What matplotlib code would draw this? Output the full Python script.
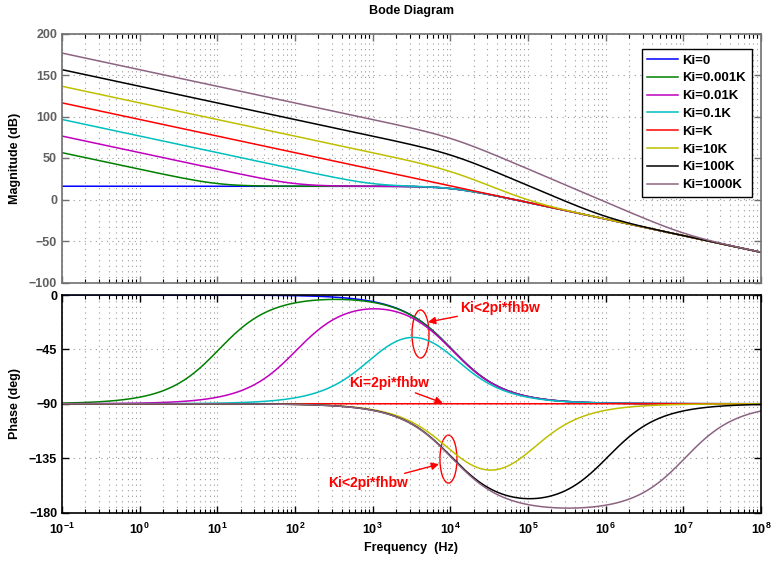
import numpy as np
import matplotlib
matplotlib.use("Agg")
import matplotlib.pyplot as plt
from matplotlib import transforms
from matplotlib.patches import Ellipse
from matplotlib.ticker import FixedLocator, MultipleLocator, NullFormatter, LogFormatterMathtext

plt.rcParams['font.family'] = ['Liberation Sans', 'DejaVu Sans']
plt.rcParams['font.weight'] = 'bold'
plt.rcParams['mathtext.fontset'] = 'custom'
plt.rcParams['mathtext.rm'] = 'Liberation Sans:bold'
plt.rcParams['mathtext.bf'] = 'Liberation Sans:bold'
plt.rcParams['mathtext.default'] = 'bf'

# PI controller (Kp + Ki/s) driving a single-pole plant
ki_ratios = [0, 0.001, 0.01, 0.1, 1, 10, 100, 1000]   # Ki as a multiple of K = Kp*2*pi*fhbw
labels = ['Ki=0', 'Ki=0.001K', 'Ki=0.01K', 'Ki=0.1K', 'Ki=K', 'Ki=10K', 'Ki=100K', 'Ki=1000K']
colors = ['#0000ff', '#008000', '#bf00bf', '#00bfbf', '#ff0000', '#bfbf00', '#000000', '#8c6482']
loop_gain_db = 16.0      # Kp * plant DC gain
pole_hz = 1.05e4         # fhbw, plant pole
kp = 1.0
decades = np.arange(-1, 9)

freq = np.logspace(-1, 8, 3000)
s = 2j * np.pi * freq
wp = 2 * np.pi * pole_hz
plant_dc = 10 ** (loop_gain_db / 20) / kp

W, H = 771, 561
fig = plt.figure(figsize=(W / 100, H / 100), dpi=100)
ax_m = fig.add_axes([62 / W, 1 - 282.5 / H, 699 / W, 249 / H])
ax_p = fig.add_axes([62 / W, 1 - 512.5 / H, 699 / W, 217.5 / H])

for ratio, lab, col in zip(ki_ratios, labels, colors):
    ki = ratio * kp * wp
    L = (kp + ki / s) * plant_dc / (1 + s / wp)
    ax_m.semilogx(freq, 20 * np.log10(np.abs(L)), color=col, lw=1.1, label=lab)
    ax_p.semilogx(freq, np.angle(L, deg=True), color=col, lw=1.1)

major_x = 10.0 ** decades
minor_x = np.array([m * 10.0 ** d for d in decades[:-1] for m in range(2, 10)])

grid_kw = dict(color='#9a9a9a', linestyle=(0, (1, 4)), linewidth=0.8)
for ax in (ax_m, ax_p):
    ax.set_xlim(1e-1, 1e8)
    ax.xaxis.set_major_locator(FixedLocator(major_x))
    ax.xaxis.set_major_formatter(LogFormatterMathtext())
    ax.xaxis.set_minor_locator(FixedLocator(minor_x))
    ax.xaxis.set_minor_formatter(NullFormatter())
    ax.tick_params(which='both', direction='in', top=True, right=True, labelsize=9)
    ax.tick_params(which='major', length=5, width=1)
    ax.tick_params(which='minor', length=3, width=0.8)
    ax.grid(True, which='major', axis='both', **grid_kw)
    ax.grid(True, which='minor', axis='x', **grid_kw)

ax_m.set_ylim(-100, 200)
ax_m.yaxis.set_major_locator(MultipleLocator(50))
ax_m.tick_params(labelbottom=False, colors='#707070', labelcolor='#606060')
for sp in ax_m.spines.values():
    sp.set_color('#707070')
    sp.set_linewidth(1.2)
ax_m.set_ylabel('Magnitude (dB)', fontsize=9, fontweight='bold', labelpad=6)

ax_p.set_ylim(-180, 0)
ax_p.yaxis.set_major_locator(MultipleLocator(45))
for sp in ax_p.spines.values():
    sp.set_linewidth(1.2)
ax_p.tick_params(axis='x', pad=7)
ax_p.set_ylabel('Phase (deg)', fontsize=9, fontweight='bold', labelpad=6)
ax_p.set_xlabel('Frequency  (Hz)', fontsize=9, fontweight='bold', labelpad=3)

fig.suptitle('Bode Diagram', x=(62 + 761) / 2 / W, y=1 - 5 / H, va='top',
             fontsize=9, fontweight='bold')

leg = ax_m.legend(loc='upper right', bbox_to_anchor=(1 - 9 / 699, 1 - 15 / 249),
                  borderaxespad=0, fancybox=False, edgecolor='black', framealpha=1,
                  fontsize=9.5, handlelength=2.3, handletextpad=0.35,
                  labelspacing=0.42, borderpad=0.45)
leg.get_frame().set_linewidth(1.0)
for t in leg.get_texts():
    t.set_fontweight('bold')

# Annotations on the phase plot
red = '#ff0000'
arrow = dict(arrowstyle='-|>', color=red, lw=1.0, mutation_scale=11, shrinkA=0, shrinkB=0)
ann_kw = dict(color=red, fontsize=10, fontweight='bold', ha='center', va='center')
ax_p.annotate('Ki<2pi*fhbw', xy=(5.15e3, -22.4), xytext=(4.36e4, -10.8),
              arrowprops=arrow, **ann_kw)
ax_p.annotate('Ki=2pi*fhbw', xy=(8.0e3, -89.4), xytext=(1.62e3, -72.9),
              arrowprops=arrow, **ann_kw)
ax_p.annotate('Ki<2pi*fhbw', xy=(7.15e3, -140), xytext=(8.7e2, -155.7),
              arrowprops=arrow, **ann_kw)

for fc, ph in [(4.13e3, -32.3), (9.46e3, -135.8)]:
    off = transforms.ScaledTranslation(fc, ph, ax_p.transData)
    ax_p.add_patch(Ellipse((0, 0), 0.17, 0.48, fill=False, edgecolor=red, lw=1.0,
                           transform=fig.dpi_scale_trans + off, clip_on=False))

fig.savefig('out.png', dpi=100)
